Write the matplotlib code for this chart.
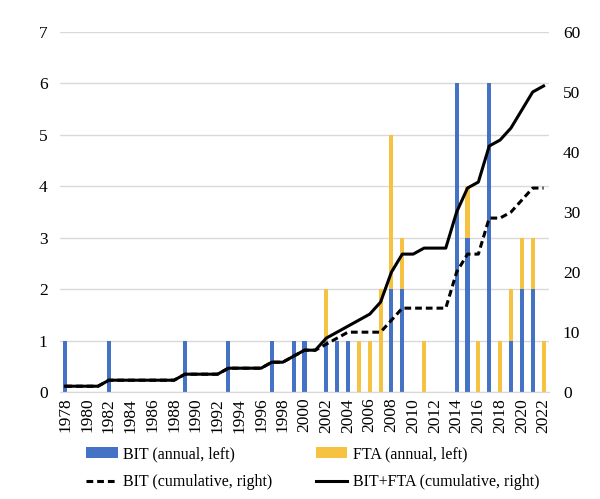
import matplotlib.pyplot as plt

plt.rcParams['font.family'] = ['Liberation Serif', 'DejaVu Serif']

# years 1978..2022
years = list(range(1978, 2023))

# annual counts (left axis)
bit_annual = [1, 0, 0, 0, 1, 0, 0, 0, 0, 0,   # 1978-1987
              0, 1, 0, 0, 0, 1, 0, 0, 0, 1,   # 1988-1997
              0, 1, 1, 0, 1, 1, 1, 0, 0, 0,   # 1998-2007
              2, 2, 0, 0, 0, 0, 6, 3, 0, 6,   # 2008-2017
              0, 1, 2, 2, 0]                  # 2018-2022
fta_annual = [0, 0, 0, 0, 0, 0, 0, 0, 0, 0,
              0, 0, 0, 0, 0, 0, 0, 0, 0, 0,
              0, 0, 0, 0, 1, 0, 0, 1, 1, 2,
              3, 1, 0, 1, 0, 0, 0, 1, 1, 0,
              1, 1, 1, 1, 1]

# cumulative counts (right axis)
bit_cum = [1, 1, 1, 1, 2, 2, 2, 2, 2, 2,
           2, 3, 3, 3, 3, 4, 4, 4, 4, 5,
           5, 6, 7, 7, 8, 9, 10, 10, 10, 10,
           12, 14, 14, 14, 14, 14, 20, 23, 23, 29,
           29, 30, 32, 34, 34]
total_cum = [1, 1, 1, 1, 2, 2, 2, 2, 2, 2,
             2, 3, 3, 3, 3, 4, 4, 4, 4, 5,
             5, 6, 7, 7, 9, 10, 11, 12, 13, 15,
             20, 23, 23, 24, 24, 24, 30, 34, 35, 41,
             42, 44, 47, 50, 51]

blue = '#4472C4'
gold = '#F5C242'

fig = plt.figure(figsize=(6, 4.99), dpi=100)
ax = fig.add_axes([0.1, 0.214, 0.815, 0.722])
ax2 = ax.twinx()

w = 0.38
b1 = ax.bar(years, bit_annual, width=w, color=blue, zorder=2)
b2 = ax.bar(years, fta_annual, width=w, bottom=bit_annual, color=gold, zorder=2)

l1, = ax2.plot(years, bit_cum, color='black', lw=2.2, ls=(0, (2.2, 1.3)))
l2, = ax2.plot(years, total_cum, color='black', lw=2.2)

ax.set_ylim(0, 7)
ax2.set_ylim(0, 60)
ax.set_xlim(1977.5, 2022.5)
ax.set_yticks(range(0, 8))
ax2.set_yticks(range(0, 61, 10))
ax.set_xticks(years[::2])
ax.set_xticklabels([str(y) for y in years[::2]], rotation=90)

ax.grid(axis='y', color='#d9d9d9', lw=1, zorder=0)
ax.set_axisbelow(True)
for a in (ax, ax2):
    for s in ('top', 'left', 'right'):
        a.spines[s].set_visible(False)
    a.spines['bottom'].set_color('#d9d9d9')
    a.tick_params(length=0, labelsize=12.5)
ax.tick_params(axis='y', pad=9)
ax2.tick_params(axis='y', pad=10)
ax.tick_params(axis='x', pad=4)

fig.legend([b1, l1, b2, l2],
           ['BIT (annual, left)', 'BIT (cumulative, right)',
            'FTA (annual, left)', 'BIT+FTA (cumulative, right)'],
           ncol=2, loc='lower center', bbox_to_anchor=(0.521, 0.0),
           frameon=False, fontsize=11.5, handlelength=2.0, columnspacing=2.7,
           handletextpad=0.33, labelspacing=0.75, borderpad=0.05)

fig.savefig('out.png', dpi=100)
